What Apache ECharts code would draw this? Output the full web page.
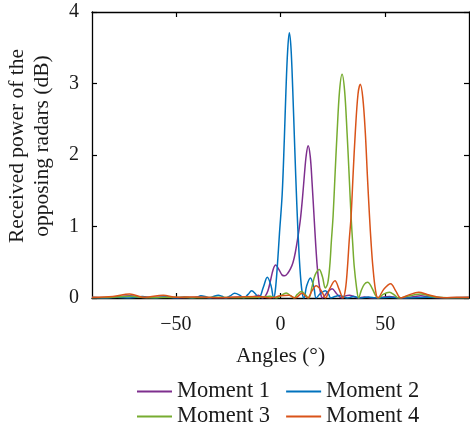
<!DOCTYPE html>
<html>
<head>
<meta charset="utf-8">
<script src="https://cdn.jsdelivr.net/npm/echarts@6/dist/echarts.min.js"></script>
<style>
  html, body { margin: 0; padding: 0; background: #fff; }
  #chart { width: 470px; height: 429px; }
</style>
</head>
<body>
<div id="chart"></div>
<script>
// Received power (dB) against angle (degrees) for four moments.
const seriesNames = ['Moment 1', 'Moment 2', 'Moment 3', 'Moment 4'];
const xTickLabels = [-50, 0, 50];
const yTickLabels = [0, 1, 2, 3, 4];
const yTitleLines = ['Received power of the', 'opposing radars (dB)'];

const m1Angles = [-90, -80, -72, -64, -56, -48, -40, -32, -25, -18, -14, -12.5, -10.5, -8.5, -7.2, -6, -4.8, -3.5, -2.3, -0.8, 0.8, 2, 3.3, 4.8, 6, 7.1, 8.3, 9.5, 10.5, 11.4, 12.3, 13.2, 14.2, 15.1, 16, 16.8, 17.6, 18.4, 19.2, 20, 22.3, 24.6, 26.8, 29.3, 31, 33, 35, 37, 40, 44, 48, 52, 56, 60, 64, 67, 71, 75, 82, 90];
const m1Power  = [0.005, 0.01, 0.03, 0.005, 0.015, 0.005, 0.01, 0.005, 0.005, 0.015, 0.01, 0.02, 0.04, 0.0, 0.03, 0.1, 0.24, 0.4, 0.46, 0.4, 0.32, 0.31, 0.34, 0.41, 0.5, 0.64, 0.85, 1.1, 1.4, 1.72, 2.0, 2.13, 1.98, 1.6, 1.15, 0.75, 0.42, 0.2, 0.06, 0.0, 0.08, 0.13, 0.06, 0.0, 0.03, 0.04, 0.02, 0.0, 0.015, 0.0, 0.01, 0.02, 0.005, 0.005, 0.02, 0.03, 0.015, 0.005, 0.005, 0.005];

const m2Angles = [-90, -84, -78, -72, -66, -60, -55, -50, -46, -42, -40, -38, -36, -34, -32, -29.7, -28, -26, -24, -21.9, -19.5, -17.5, -15.5, -13.8, -12, -10.3, -8.2, -6.3, -4.5, -3.3, -2.5, -1.5, -0.5, 0.8, 1.8, 2.6, 3.4, 4.2, 5, 5.8, 6.8, 7.8, 8.8, 9.7, 10.5, 11.2, 12.5, 14.3, 16, 17, 19, 21.4, 23, 24, 26, 28, 30, 32, 35, 38, 42, 46, 52, 60, 70, 80, 90];
const m2Power  = [0.01, 0.0, 0.01, 0.0, 0.02, 0.0, 0.015, 0.0, 0.015, 0.0, 0.01, 0.03, 0.02, 0.0, 0.02, 0.04, 0.025, 0.0, 0.03, 0.065, 0.04, 0.0, 0.05, 0.1, 0.06, 0.0, 0.15, 0.29, 0.17, 0.0, 0.1, 0.45, 0.9, 1.45, 2.2, 2.9, 3.45, 3.71, 3.5, 2.95, 2.1, 1.3, 0.65, 0.25, 0.05, 0.0, 0.17, 0.28, 0.14, 0.0, 0.06, 0.1, 0.05, 0.0, 0.02, 0.035, 0.02, 0.0, 0.02, 0.0, 0.015, 0.0, 0.01, 0.0, 0.01, 0.005, 0.01];

const m3Angles = [-90, -80, -72, -64, -50, -40, -30, -20, -10, -5, -2, 0, 2.7, 5, 6.5, 8, 10, 12, 13.5, 15, 16.5, 18.5, 20, 21.4, 22.5, 23.5, 24.3, 25.1, 26, 27, 28.2, 29.4, 30.6, 31.8, 32.8, 33.7, 34.5, 35.2, 36.3, 37.3, 38.5, 40, 41.6, 43.5, 45.5, 46.8, 49, 52, 54.5, 56.3, 60, 64, 67, 71, 75, 80, 90];
const m3Power  = [0.005, 0.01, 0.025, 0.005, 0.01, 0.005, 0.01, 0.005, 0.01, 0.025, 0.0, 0.03, 0.07, 0.03, 0.0, 0.05, 0.09, 0.04, 0.0, 0.15, 0.32, 0.4, 0.3, 0.14, 0.2, 0.44, 0.8, 1.14, 1.7, 2.3, 2.9, 3.13, 2.9, 2.3, 1.7, 1.14, 0.75, 0.44, 0.15, 0.0, 0.1, 0.19, 0.22, 0.15, 0.03, 0.0, 0.05, 0.08, 0.04, 0.0, 0.02, 0.045, 0.055, 0.03, 0.01, 0.005, 0.005];

const m4Angles = [-90, -80, -72, -65, -56, -50, -40, -30, -20, -10, -5, 0, 4, 7, 10.3, 13, 15, 17, 19.5, 21.5, 23.5, 26, 28, 29.8, 31, 32, 32.8, 33.7, 34.7, 35.7, 37, 38.1, 39.3, 40.5, 41.5, 42.5, 43.3, 44.1, 45.3, 46.5, 49.5, 52.6, 55, 57.5, 61, 66, 70, 74, 78, 84, 90];
const m4Power  = [0.01, 0.02, 0.055, 0.01, 0.04, 0.01, 0.015, 0.005, 0.015, 0.02, 0.0, 0.03, 0.04, 0.0, 0.065, 0.0, 0.1, 0.17, 0.1, 0.0, 0.13, 0.24, 0.12, 0.0, 0.12, 0.44, 0.8, 1.14, 1.75, 2.31, 2.85, 2.99, 2.8, 2.31, 1.7, 1.14, 0.75, 0.44, 0.12, 0.0, 0.13, 0.2, 0.1, 0.0, 0.04, 0.08, 0.05, 0.02, 0.005, 0.01, 0.01];

const colors = ['#7E2F8E', '#0072BD', '#77AC30', '#D95319'];
const angleSets = [m1Angles, m2Angles, m3Angles, m4Angles];
const powerSets = [m1Power, m2Power, m3Power, m4Power];

const FONT = 'Liberation Serif';
const INK = '#1a1a1a';

const chart = echarts.init(document.getElementById('chart'), null, { renderer: 'canvas' });

const frameLine = { show: true, onZero: false, lineStyle: { color: '#000', width: 1.3 } };
const inTicks = { show: true, inside: true, length: 5, lineStyle: { color: '#000', width: 1.2 } };

function legendRow(names, top) {
  return {
    data: names,
    orient: 'horizontal',
    left: 137, top,
    icon: 'rect',
    itemWidth: 35, itemHeight: 2, itemGap: 16,
    padding: 0,
    textStyle: { fontFamily: FONT, fontSize: 22.5, color: INK }
  };
}

const option = {
  animation: false,
  grid: { left: 92, right: 1, top: 12, bottom: 131, containLabel: false, outerBoundsMode: 'none' },
  legend: [
    legendRow([seriesNames[0], seriesNames[1]], 380),
    legendRow([seriesNames[2], seriesNames[3]], 405)
  ],
  graphic: [{
    type: 'text',
    x: 30, y: 146,
    rotation: Math.PI / 2,
    style: {
      text: yTitleLines.join('\n'),
      fontFamily: FONT, fontSize: 21.5, fill: INK,
      lineHeight: 25,
      align: 'center', verticalAlign: 'middle'
    }
  }],
  xAxis: [
    {
      type: 'value', min: -90, max: 90,
      name: 'Angles (°)', nameLocation: 'middle', nameGap: 47,
      nameTextStyle: { fontFamily: FONT, fontSize: 21.5, color: INK },
      axisLine: frameLine,
      axisTick: Object.assign({ customValues: xTickLabels }, inTicks),
      axisLabel: {
        customValues: xTickLabels, margin: 17,
        fontFamily: FONT, fontSize: 20, color: INK,
        formatter: v => String(v).replace('-', '\u2212')
      },
      splitLine: { show: false }
    },
    {
      type: 'value', position: 'top', min: -90, max: 90,
      axisLine: frameLine,
      axisTick: Object.assign({ customValues: xTickLabels }, inTicks),
      axisLabel: { show: false },
      splitLine: { show: false }
    }
  ],
  yAxis: [
    {
      type: 'value', min: 0, max: 4, interval: 1,
      axisLine: frameLine,
      axisTick: inTicks,
      axisLabel: {
        margin: 13, fontFamily: FONT, fontSize: 20, color: INK,
        formatter: v => (yTickLabels.includes(v) ? String(v) : '')
      },
      splitLine: { show: false }
    },
    {
      type: 'value', position: 'right', min: 0, max: 4, interval: 1,
      axisLine: frameLine,
      axisTick: inTicks,
      axisLabel: { show: false },
      splitLine: { show: false }
    }
  ],
  series: seriesNames.map((name, i) => ({
    name,
    type: 'line',
    xAxisIndex: 0,
    yAxisIndex: 0,
    data: angleSets[i].map((a, k) => [a, powerSets[i][k]]),
    smooth: 0.35,
    symbol: 'none',
    lineStyle: { color: colors[i], width: 1.5 },
    itemStyle: { color: colors[i] },
    z: 3 + i
  }))
};

chart.setOption(option);
</script>
</body>
</html>
